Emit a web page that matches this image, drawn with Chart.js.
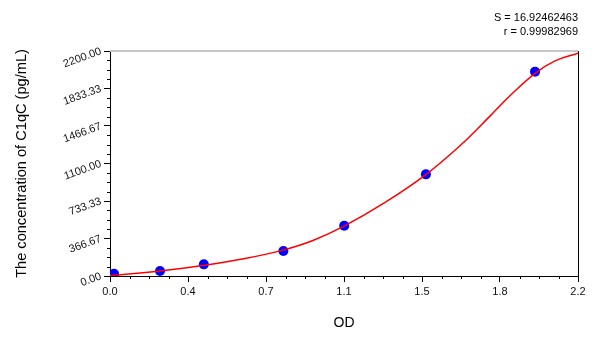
<!DOCTYPE html>
<html><head><meta charset="utf-8">
<script src="https://cdn.jsdelivr.net/npm/chart.js@4/dist/chart.umd.min.js"></script>
<style>html,body{margin:0;padding:0;background:#fff}#wrap{width:600px;height:337px;position:relative}</style>
</head><body><div id="wrap"><canvas id="c"></canvas></div>
<script>
// Standard points (OD vs concentration)
const odValues   = [0.019, 0.235, 0.441, 0.815, 1.101, 1.485, 1.998];
const concValues = [22, 49, 114, 244, 492, 994, 1998];
// Fitted curve
const curveOD   = [0, 0.235, 0.442, 0.635, 0.813, 0.954, 1.100, 1.293, 1.485, 1.645, 1.786, 1.880, 1.998, 2.092, 2.2];
const curveConc = [4, 49, 105, 171, 253, 347, 487, 720, 992, 1273, 1563, 1762, 1982, 2104, 2178];
// Axis tick labels
const xTickLabels = ['0.0', '0.4', '0.7', '1.1', '1.5', '1.8', '2.2'];
const yTickLabels = ['0.00', '366.67', '733.33', '1100.00', '1466.67', '1833.33', '2200.00'];
const xMax = 2.2, yMax = 2200;
const fitStats = ['S = 16.92462463', 'r = 0.99982969'];

const FONT = 'Liberation Sans, Arial, Helvetica, sans-serif';

function evenTicks(labels, max) {
  return function (scale) {
    scale.ticks = labels.map((l, i) => ({ value: i * max / (labels.length - 1) }));
  };
}

const framePlugin = {
  id: 'frame',
  afterDraw(chart) {
    const { ctx, chartArea: a, scales } = chart;
    ctx.save();
    // top gray line
    ctx.strokeStyle = '#c8c8c8';
    ctx.lineWidth = 2;
    ctx.beginPath(); ctx.moveTo(a.left, a.top); ctx.lineTo(a.right, a.top); ctx.stroke();
    // right black line
    ctx.strokeStyle = '#000';
    ctx.lineWidth = 1;
    ctx.beginPath(); ctx.moveTo(Math.round(a.right) + 0.5, a.top); ctx.lineTo(Math.round(a.right) + 0.5, a.bottom); ctx.stroke();
    // minor ticks
    const xs = scales.x, ys = scales.y;
    ctx.beginPath();
    const nx = (xTickLabels.length - 1) * 4;
    for (let i = 0; i <= nx; i++) {
      if (i % 4 === 0) continue;
      const px = Math.round(xs.getPixelForValue(i * xMax / nx)) + 0.5;
      ctx.moveTo(px, a.bottom); ctx.lineTo(px, a.bottom + 3);
    }
    const ny = (yTickLabels.length - 1) * 4;
    for (let i = 0; i <= ny; i++) {
      if (i % 4 === 0) continue;
      const py = Math.round(ys.getPixelForValue(i * yMax / ny)) + 0.5;
      ctx.moveTo(a.left, py); ctx.lineTo(a.left - 3, py);
    }
    ctx.stroke();
    // fit statistics
    ctx.fillStyle = '#000';
    ctx.font = '11px ' + FONT;
    ctx.textAlign = 'right';
    ctx.textBaseline = 'middle';
    ctx.fillText(fitStats[0], a.right, 18);
    ctx.fillText(fitStats[1], a.right, 32);
    ctx.restore();
  }
};

new Chart(document.getElementById('c'), {
  type: 'scatter',
  data: {
    datasets: [
      {
        label: 'fit',
        data: curveOD.map((x, i) => ({ x, y: curveConc[i] })),
        showLine: true,
        borderColor: '#ff0000',
        borderWidth: 1.5,
        pointRadius: 0,
        tension: 0.4,
        fill: false,
        order: 0
      },
      {
        label: 'standards',
        data: odValues.map((x, i) => ({ x, y: concValues[i] })),
        backgroundColor: '#0000ff',
        borderWidth: 0,
        pointRadius: 5,
        order: 1
      }
    ]
  },
  plugins: [framePlugin],
  options: {
    responsive: true,
    maintainAspectRatio: false,
    animation: false,
    layout: { padding: { left: 0, right: 22, top: 51, bottom: 0 } },
    plugins: { legend: { display: false }, tooltip: { enabled: false } },
    scales: {
      x: {
        type: 'linear', min: 0, max: xMax,
        afterBuildTicks: evenTicks(xTickLabels, xMax),
        afterFit(s) { s.height = 61; },
        border: { color: '#000', width: 1 },
        grid: { drawOnChartArea: false, drawTicks: true, tickLength: 6, tickColor: '#000' },
        ticks: { padding: 3, color: '#111', font: { family: FONT, size: 11 },
                 maxRotation: 0, autoSkip: false,
                 callback: (v, i) => xTickLabels[i] },
        title: { display: true, text: 'OD', color: '#000',
                 font: { family: FONT, size: 14 }, padding: { top: 0, bottom: 5 } }
      },
      y: {
        type: 'linear', min: 0, max: yMax,
        afterBuildTicks: evenTicks(yTickLabels, yMax),
        afterFit(s) { s.width = 110; },
        border: { color: '#000', width: 1 },
        grid: { drawOnChartArea: false, drawTicks: true, tickLength: 6, tickColor: '#000' },
        ticks: { padding: 3, color: '#111', font: { family: FONT, size: 11 },
                 minRotation: 20, maxRotation: 50, autoSkip: false,
                 callback: (v, i) => yTickLabels[i] },
        title: { display: true, text: 'The concentration of C1qC (pg/mL)', color: '#000',
                 font: { family: FONT, size: 14.6 }, padding: { top: 13, bottom: 0 } }
      }
    }
  }
});
</script>
</body></html>
